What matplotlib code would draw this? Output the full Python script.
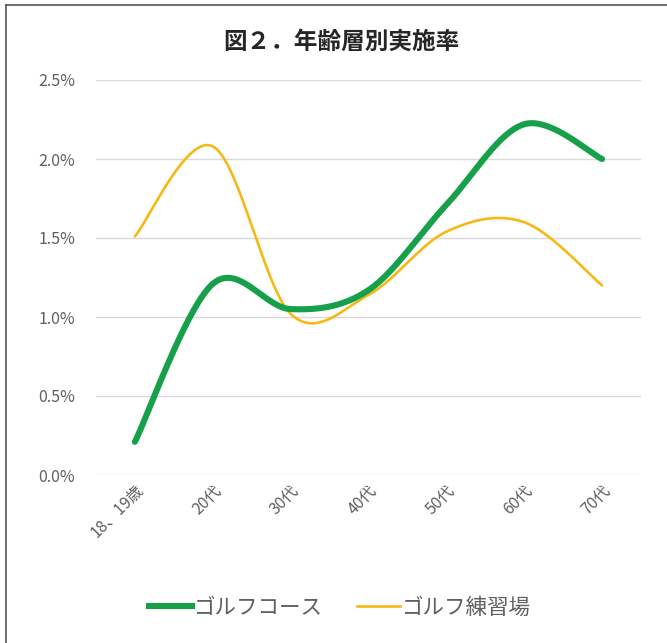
import numpy as np
import matplotlib
matplotlib.use("Agg")
import matplotlib.pyplot as plt
from matplotlib.lines import Line2D

plt.rcParams['font.family'] = ['Noto Sans CJK JP', 'DejaVu Sans']

categories = ["18、19歳", "20代", "30代", "40代", "50代", "60代", "70代"]
course = [0.21, 1.21, 1.05, 1.17, 1.71, 2.22, 2.00]      # ゴルフコース (%)
practice = [1.51, 2.08, 1.02, 1.14, 1.54, 1.60, 1.20]    # ゴルフ練習場 (%)
yticks = [0.0, 0.5, 1.0, 1.5, 2.0, 2.5]

GREEN = "#16a04a"
YELLOW = "#f5b916"


def smooth(xs, ys, n=40):
    """Cardinal (Catmull-Rom style) Bezier smoothing through every point."""
    xs = np.asarray(xs, float)
    ys = np.asarray(ys, float)
    px = np.concatenate([[xs[0]], xs, [xs[-1]]])
    py = np.concatenate([[ys[0]], ys, [ys[-1]]])
    out_x, out_y = [], []
    t = np.linspace(0, 1, n)
    for i in range(1, len(px) - 2):
        p0 = np.array([px[i], py[i]])
        p3 = np.array([px[i + 1], py[i + 1]])
        c1 = p0 + (np.array([px[i + 1], py[i + 1]]) - np.array([px[i - 1], py[i - 1]])) / 6
        c2 = p3 - (np.array([px[i + 2], py[i + 2]]) - np.array([px[i], py[i]])) / 6
        b = ((1 - t) ** 3)[:, None] * p0 + (3 * (1 - t) ** 2 * t)[:, None] * c1 \
            + (3 * (1 - t) * t ** 2)[:, None] * c2 + (t ** 3)[:, None] * p3
        out_x.extend(b[:, 0])
        out_y.extend(b[:, 1])
    return np.array(out_x), np.array(out_y)


fig = plt.figure(figsize=(6.67, 6.43), dpi=100)
ax = fig.add_axes([96 / 667, 1 - 475 / 643, 545 / 667, 395 / 643])

x = np.arange(len(categories))
sx, sy = smooth(x, practice)
ax.plot(sx, sy, color=YELLOW, lw=1.9, solid_capstyle='round', zorder=3)
sx, sy = smooth(x, course)
ax.plot(sx, sy, color=GREEN, lw=4.4, solid_capstyle='round', zorder=4)

ax.set_xlim(-0.5, len(categories) - 0.5)
ax.set_ylim(0, 2.5)
ax.set_yticks(yticks)
ax.set_yticklabels([f"{v:.1f}%" for v in yticks])
ax.set_xticks(x)
ax.set_xticklabels(categories, rotation=45, ha='right', rotation_mode='anchor')
ax.grid(axis='y', color='#d9d9d9', lw=1.0)
ax.set_axisbelow(True)
for s in ax.spines.values():
    s.set_visible(False)
ax.tick_params(axis='both', length=0, colors='#5f5f5f', labelsize=11.5)
ax.tick_params(axis='y', pad=15)
ax.tick_params(axis='x', pad=5)

fig.text(341 / 667, 1 - 42 / 643, "図２．年齢層別実施率", ha='center', va='center',
         fontsize=17, fontweight='bold', color='#262626')

handles = [Line2D([], [], color=GREEN, lw=4.4),
           Line2D([], [], color=YELLOW, lw=1.9)]
fig.legend(handles, ["ゴルフコース", "ゴルフ練習場"], loc='center',
           bbox_to_anchor=(340 / 667, 1 - 608 / 643), ncol=2, frameon=False,
           fontsize=15.5, handlelength=2.0, handletextpad=0.1, columnspacing=1.6,
           labelcolor='#5f5f5f')

# outer frame (top and left edges)
fig.add_artist(Line2D([6 / 667, 6 / 667], [0, 1 - 5 / 643], transform=fig.transFigure,
                      color='#555555', lw=1.2))
fig.add_artist(Line2D([6 / 667, 1], [1 - 5 / 643, 1 - 5 / 643], transform=fig.transFigure,
                      color='#555555', lw=1.2))

fig.savefig("out.png", dpi=100)
